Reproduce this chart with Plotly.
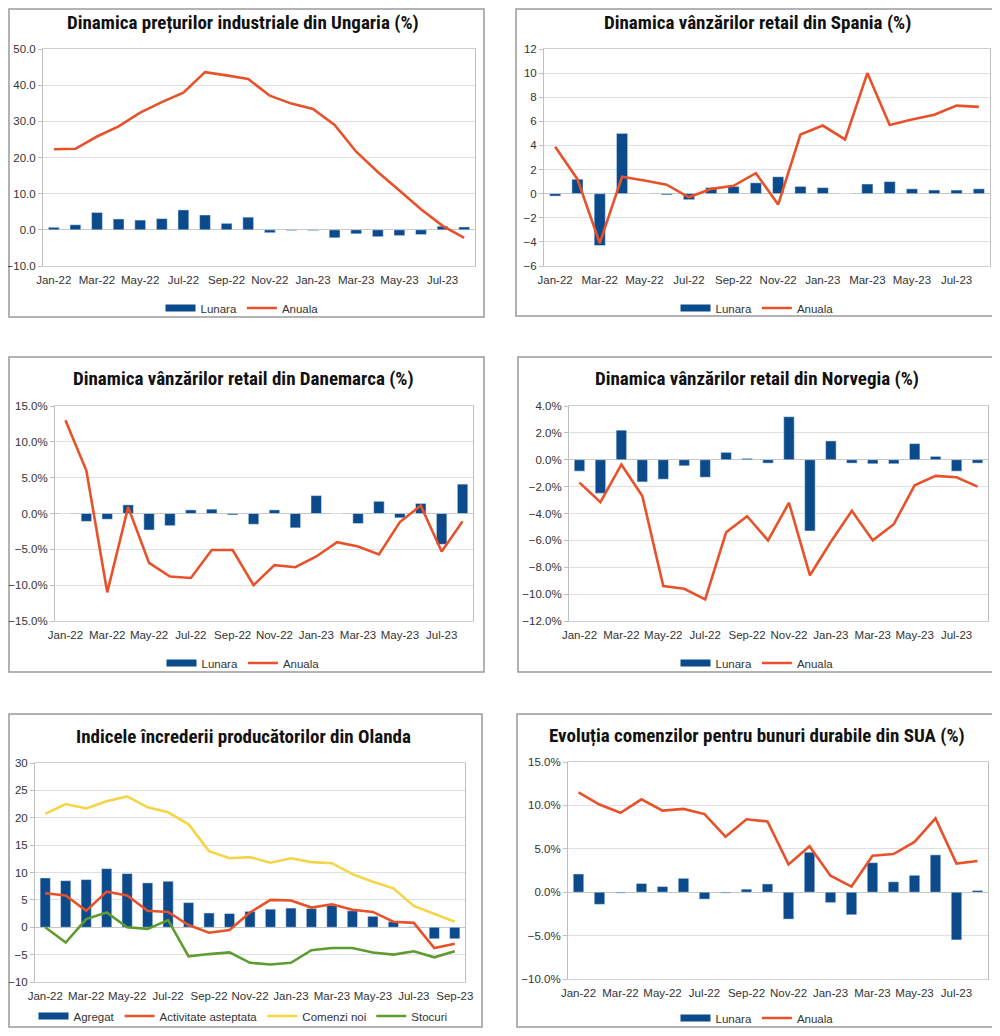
import plotly.graph_objects as go

# month categories
months_20 = ["Jan-22", "Feb-22", "Mar-22", "Apr-22", "May-22", "Jun-22", "Jul-22", "Aug-22",
             "Sep-22", "Oct-22", "Nov-22", "Dec-22", "Jan-23", "Feb-23", "Mar-23", "Apr-23",
             "May-23", "Jun-23", "Jul-23", "Aug-23"]
months_21 = months_20 + ["Sep-23"]

# Ungaria - preturi industriale
hu_lunara = [0.7, 1.4, 4.8, 3.0, 2.7, 3.1, 5.5, 4.1, 1.8, 3.5, -0.8, -0.2, -0.2, -2.2, -1.1, -1.9, -1.6, -1.3, 1.0, 0.8]
hu_anuala = [22.3, 22.4, 25.8, 28.6, 32.4, 35.3, 37.9, 43.6, 42.7, 41.7, 37.1, 34.9, 33.4, 29.0, 21.6, 16.0, 10.9, 5.7, 1.1, -2.2]

# Spania - vanzari retail
es_lunara = [-0.2, 1.2, -4.3, 5.0, 0.0, -0.1, -0.5, 0.5, 0.6, 0.9, 1.4, 0.6, 0.5, 0.0, 0.8, 1.0, 0.4, 0.3, 0.3, 0.4]
es_anuala = [3.9, 1.2, -4.1, 1.4, 1.1, 0.75, -0.3, 0.4, 0.65, 1.7, -0.9, 4.9, 5.65, 4.5, 10.0, 5.7, 6.15, 6.55, 7.3, 7.2]

# Danemarca - vanzari retail
dk_lunara = [0.0, -1.1, -0.8, 1.2, -2.3, -1.7, 0.5, 0.6, -0.2, -1.5, 0.5, -2.0, 2.5, 0.0, -1.4, 1.7, -0.6, 1.4, -4.3, 4.1]
dk_anuala = [13.0, 6.0, -11.0, 0.9, -6.9, -8.8, -9.0, -5.1, -5.1, -10.0, -7.2, -7.5, -6.0, -4.0, -4.6, -5.7, -1.2, 1.1, -5.3, -1.1]

# Norvegia - vanzari retail
no_lunara = [-0.85, -2.5, 2.2, -1.65, -1.45, -0.45, -1.3, 0.55, 0.1, -0.25, 3.2, -5.3, 1.4, -0.25, -0.3, -0.3, 1.2, 0.25, -0.85, -0.25]
no_anuala = [-1.7, -3.15, -0.35, -2.7, -9.4, -9.6, -10.4, -5.4, -4.2, -6.0, -3.2, -8.6, -6.1, -3.8, -6.0, -4.8, -1.9, -1.2, -1.3, -2.0]

# Olanda - increderea producatorilor
nl_agregat = [9.0, 8.5, 8.7, 10.7, 9.8, 8.1, 8.4, 4.5, 2.6, 2.5, 2.9, 3.3, 3.5, 3.4, 4.0, 3.0, 2.0, 1.0, 0.1, -2.1, -2.1]
nl_activitate = [6.2, 5.8, 3.0, 6.5, 5.8, 3.0, 2.8, 0.4, -1.0, -0.5, 2.7, 5.0, 4.9, 3.6, 4.2, 3.2, 2.8, 1.0, 0.8, -3.8, -3.0]
nl_comenzi = [20.7, 22.5, 21.7, 23.0, 23.9, 21.9, 21.0, 18.8, 13.9, 12.6, 12.8, 11.8, 12.6, 11.9, 11.7, 9.7, 8.3, 7.1, 3.9, 2.5, 1.0]
nl_stocuri = [0.0, -2.8, 1.5, 2.7, 0.0, -0.3, 1.3, -5.3, -4.9, -4.6, -6.5, -6.8, -6.5, -4.2, -3.8, -3.8, -4.6, -5.0, -4.4, -5.5, -4.4]

# SUA - comenzi bunuri durabile
us_lunara = [2.1, -1.4, -0.1, 1.0, 0.65, 1.6, -0.8, -0.1, 0.35, 0.95, -3.1, 4.6, -1.2, -2.6, 3.4, 1.2, 1.95, 4.3, -5.5, 0.2]
us_anuala = [11.5, 10.1, 9.15, 10.7, 9.4, 9.6, 9.0, 6.4, 8.4, 8.15, 3.2, 5.3, 1.9, 0.65, 4.2, 4.4, 5.8, 8.5, 3.3, 3.6]

titles = [
    "Dinamica prețurilor industriale din Ungaria (%)",
    "Dinamica vânzărilor retail din Spania (%)",
    "Dinamica vânzărilor retail din Danemarca (%)",
    "Dinamica vânzărilor retail din Norvegia (%)",
    "Indicele încrederii producătorilor din Olanda",
    "Evoluția comenzilor pentru bunuri durabile din SUA (%)",
]

BLUE = "#0B4A8B"
ORANGE = "#E8522A"
YELLOW = "#F4D545"
GREEN = "#5E9C2F"

# the page body adds an 8px margin on each side, so size the figure to fit inside it
OFF = 8
W, H = 1000 - OFF, 1036 - 2 * OFF


def px_x(x):
    return min(max((x - OFF) / W, 0), 1)


def px_y(y):
    return min(max(1 - (y - OFF) / H, 0), 1)


# pixel layout (page coords): plot area (l, t, r, b), box (l, t, r, b), title (x, y), legend (x, y)
panels = [
    dict(plot=(43, 49, 475, 266), box=(1, 1, 485, 318), title=(243, 23), leg=(242, 308)),
    dict(plot=(544, 49, 990, 266), box=(515, 1, 999, 317), title=(757, 23), leg=(757, 308)),
    dict(plot=(55, 406, 473, 621), box=(2, 356, 485, 673), title=(243, 378), leg=(243, 663)),
    dict(plot=(569, 406, 988, 621), box=(517, 356, 999, 673), title=(757, 378), leg=(757, 663)),
    dict(plot=(35, 763, 465, 982), box=(2, 713, 483, 1035), title=(243, 736), leg=(243, 1016)),
    dict(plot=(568, 762, 988, 979), box=(516, 713, 999, 1032), title=(757, 735), leg=(757, 1018)),
]

yaxes_cfg = [
    dict(range=[-10, 50], dtick=10, tickformat=".1f", ticksuffix=""),
    dict(range=[-6, 12], dtick=2, tickformat="d", ticksuffix=""),
    dict(range=[-15, 15], dtick=5, tickformat=".1f", ticksuffix="%"),
    dict(range=[-12, 4], dtick=2, tickformat=".1f", ticksuffix="%"),
    dict(range=[-10, 30], dtick=5, tickformat="d", ticksuffix=""),
    dict(range=[-10, 15], dtick=5, tickformat=".1f", ticksuffix="%"),
]

series = [
    (months_20, [("Lunara", "bar", hu_lunara, BLUE), ("Anuala", "line", hu_anuala, ORANGE)]),
    (months_20, [("Lunara", "bar", es_lunara, BLUE), ("Anuala", "line", es_anuala, ORANGE)]),
    (months_20, [("Lunara", "bar", dk_lunara, BLUE), ("Anuala", "line", dk_anuala, ORANGE)]),
    (months_20, [("Lunara", "bar", no_lunara, BLUE), ("Anuala", "line", no_anuala, ORANGE)]),
    (months_21, [("Agregat", "bar", nl_agregat, BLUE), ("Activitate asteptata", "line", nl_activitate, ORANGE),
                 ("Comenzi noi", "line", nl_comenzi, YELLOW), ("Stocuri", "line", nl_stocuri, GREEN)]),
    (months_20, [("Lunara", "bar", us_lunara, BLUE), ("Anuala", "line", us_anuala, ORANGE)]),
]

tick_font = dict(family="Liberation Sans, Arial, sans-serif", size=11.5, color="#333333")
title_font = dict(family="Roboto Condensed, Liberation Sans Narrow, Arial Narrow, Roboto, sans-serif",
                  size=19, color="#111111")

fig = go.Figure()
layout = {}
shapes = []
annotations = []

for i, (p, ycfg, (cats, traces)) in enumerate(zip(panels, yaxes_cfg, series)):
    n = i + 1
    sfx = "" if n == 1 else str(n)
    leg = "legend" if n == 1 else f"legend{n}"
    for name, kind, vals, color in traces:
        if kind == "bar":
            fig.add_trace(go.Bar(x=cats, y=vals, name=name, marker_color=color, width=0.5,
                                 xaxis="x" + sfx, yaxis="y" + sfx, showlegend=False))
            # legend entry with a wide flat swatch, like the source chart
            fig.add_trace(go.Scatter(x=[cats[0]], y=[None], name=name, mode="lines",
                                     line=dict(color=color, width=7),
                                     xaxis="x" + sfx, yaxis="y" + sfx, legend=leg))
        else:
            fig.add_trace(go.Scatter(x=cats, y=vals, name=name, mode="lines",
                                     line=dict(color=color, width=2.6),
                                     xaxis="x" + sfx, yaxis="y" + sfx, legend=leg))

    l, t, r, b = p["plot"]
    layout["xaxis" + sfx] = dict(
        domain=[px_x(l), px_x(r)], anchor="y" + sfx, type="category",
        tickvals=cats[::2], ticktext=cats[::2], tickfont=tick_font, tickangle=0,
        showline=True, linecolor="#cfcfcf", mirror=True, showgrid=False,
        ticks="", ticklabelstandoff=3, fixedrange=True, automargin=False,
    )
    layout["yaxis" + sfx] = dict(
        domain=[px_y(b), px_y(t)], anchor="x" + sfx,
        range=ycfg["range"], dtick=ycfg["dtick"], tickformat=ycfg["tickformat"],
        ticksuffix=ycfg["ticksuffix"], tickfont=tick_font,
        showline=True, linecolor="#bfbfbf", mirror=True,
        ticks="outside", ticklen=4, tickcolor="#bfbfbf",
        gridcolor="#e0e0e0", gridwidth=1,
        zeroline=True, zerolinecolor="#c8c8c8", zerolinewidth=1.2,
        fixedrange=True, automargin=False,
    )

    bl, bt, br, bb = p["box"]
    shapes.append(dict(type="rect", xref="paper", yref="paper",
                       x0=px_x(bl) + 0.001, x1=px_x(br) - 0.001,
                       y0=px_y(bb) + 0.001, y1=px_y(bt) - 0.001,
                       line=dict(color="#9a9a9a", width=1.5), fillcolor="rgba(0,0,0,0)", layer="below"))

    tx, ty = p["title"]
    annotations.append(dict(text="<b>" + titles[i] + "</b>", xref="paper", yref="paper",
                            x=px_x(tx), y=px_y(ty), xanchor="center", yanchor="middle",
                            showarrow=False, font=title_font))

    lx, ly = p["leg"]
    layout[leg] = dict(orientation="h", x=px_x(lx), y=px_y(ly), xanchor="center", yanchor="middle",
                       font=dict(family="Liberation Sans, Arial, sans-serif", size=11.5, color="#333333"),
                       bgcolor="rgba(0,0,0,0)", itemwidth=30, tracegroupgap=0,
                       itemclick=False, itemdoubleclick=False)

fig.update_layout(
    width=W, height=H,
    margin=dict(l=0, r=0, t=0, b=0, autoexpand=False),
    paper_bgcolor="white", plot_bgcolor="white",
    barmode="overlay", showlegend=True,
    shapes=shapes, annotations=annotations,
    **layout,
)

fig.write_html("out.html", config={"displayModeBar": False})
